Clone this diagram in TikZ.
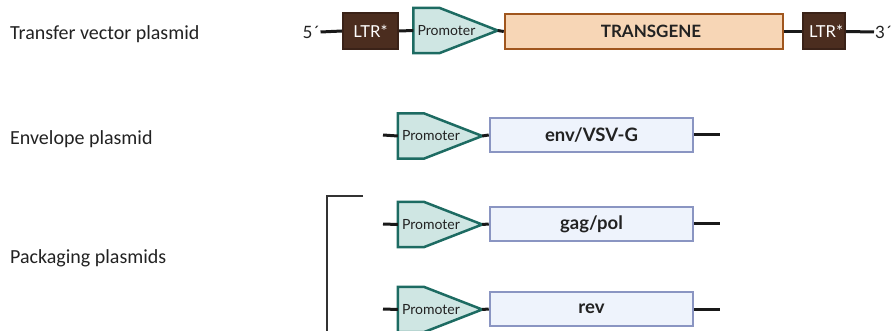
\documentclass[tikz,border=0pt]{standalone}
\usepackage{fontspec}
\setmainfont{Lato}
\newfontfamily\labelfont{Carlito}
\usetikzlibrary{backgrounds}
\definecolor{ltrfill}{HTML}{4B2D1F}
\definecolor{ltrdraw}{HTML}{3A2218}
\definecolor{promfill}{HTML}{CFE6E3}
\definecolor{promdraw}{HTML}{1D6B62}
\definecolor{tgfill}{HTML}{F7D6B6}
\definecolor{tgdraw}{HTML}{A0561E}
\definecolor{genefill}{HTML}{EEF3FC}
\definecolor{genedraw}{HTML}{8A95C2}
\definecolor{txt}{HTML}{222222}
\tikzset{
  rowlabel/.style={anchor=west, inner sep=0pt, text=txt, font=\labelfont\fontsize{20}{23}\selectfont},
  endlabel/.style={inner sep=1pt, text=txt, font=\fontsize{17}{20}\selectfont},
  ltrbox/.style={fill=ltrfill, draw=ltrdraw, line width=2pt, minimum height=36pt, inner sep=0pt,
    text=white, font=\fontsize{16.5}{18}\selectfont},
  prom/.style={minimum height=45pt, text width=76pt, inner xsep=4pt, inner ysep=0pt, align=left,
    text=txt, font=\fontsize{14}{16}\selectfont},
  promshape/.style={fill=promfill, draw=promdraw, line width=2.5pt, line join=miter},
  tgbox/.style={fill=tgfill, draw=tgdraw, line width=2.5pt, minimum width=278pt, minimum height=35pt,
    inner sep=0pt, text=txt, font=\fontsize{17}{20}\selectfont\bfseries},
  genebox/.style={fill=genefill, draw=genedraw, line width=2.5pt, minimum width=203pt, minimum height=34pt,
    inner sep=0pt, text=txt, font=\fontsize{18.5}{21}\selectfont\bfseries},
  dna/.style={draw=black!90, line width=3pt},
  bracket/.style={draw=black!80, line width=1.3pt}
}
\newcommand{\promoterpoly}[1]{%
  \begin{scope}[on background layer]
    \path[promshape] (#1.north west) -- ([xshift=26pt]#1.north west) -- (#1.east)
      -- ([xshift=26pt]#1.south west) -- (#1.south west) -- cycle;
  \end{scope}}
\begin{document}
\begin{tikzpicture}[x=1pt, y=-1pt]
\useasboundingbox (0,0) rectangle (892,331);

% row labels
\node[rowlabel] (l1) at (10,34) {Transfer vector plasmid};
\node[rowlabel] (l2) at (10,139) {Envelope plasmid};
\node[rowlabel] (l3) at (10,258) {Packaging plasmids};

% row 1: transfer vector
\node[endlabel] (t5) at (311,32) {5´};
\node[ltrbox, minimum width=55pt] (ltr1) at (370.5,31) {LTR*};
\node[prom] (p1) at (455.5,30.5) {Promoter};
\promoterpoly{p1}
\node[tgbox, text width=268pt, align=center] (tg) at (644,31.5) {\hspace*{14pt}TRANSGENE};
\node[ltrbox, minimum width=42pt, text width=40pt, align=left, inner xsep=0pt] (ltr2) at (824,31.5) {\hspace*{5pt}LTR*};
\node[endlabel, anchor=west] (t3) at (874,32) {3´};
\begin{scope}[on background layer]
\draw[dna] (t5.east) -- (ltr1.west);
\draw[dna] (ltr1.east) -- (p1.west);
\draw[dna] (p1.east) -- (tg.west);
\draw[dna] (tg.east) -- (ltr2.west);
\draw[dna] (ltr2.east) -- (t3.west);
\end{scope}

% row 2: envelope
\coordinate (e2l) at (383,135);
\coordinate (e2r) at (720,135);
\node[prom] (p2) at (440,136) {Promoter};
\promoterpoly{p2}
\node[genebox] (g2) at (591.5,135) {env/VSV-G};
\begin{scope}[on background layer]
\draw[dna] (e2l) -- (p2.west);
\draw[dna] (p2.east) -- (g2.west);
\draw[dna] (g2.east) -- (e2r);
\end{scope}

% row 3: gag/pol
\coordinate (e3l) at (383,224);
\coordinate (e3r) at (720,224);
\node[prom] (p3) at (440,224.5) {Promoter};
\promoterpoly{p3}
\node[genebox] (g3) at (591.5,224) {gag/pol};
\begin{scope}[on background layer]
\draw[dna] (e3l) -- (p3.west);
\draw[dna] (p3.east) -- (g3.west);
\draw[dna] (g3.east) -- (e3r);
\end{scope}

% row 4: rev
\coordinate (e4l) at (383,309);
\coordinate (e4r) at (720,309);
\node[prom] (p4) at (440,309.5) {Promoter};
\promoterpoly{p4}
\node[genebox] (g4) at (591.5,309) {rev};
\begin{scope}[on background layer]
\draw[dna] (e4l) -- (p4.west);
\draw[dna] (p4.east) -- (g4.west);
\draw[dna] (g4.east) -- (e4r);
\end{scope}

% bracket
\coordinate (bt) at (363,196);
\coordinate (bc) at (327,196);
\coordinate (bb) at (327,345);
\draw[bracket] (bt) -- (bc) -- (bb);
\end{tikzpicture}
\end{document}
